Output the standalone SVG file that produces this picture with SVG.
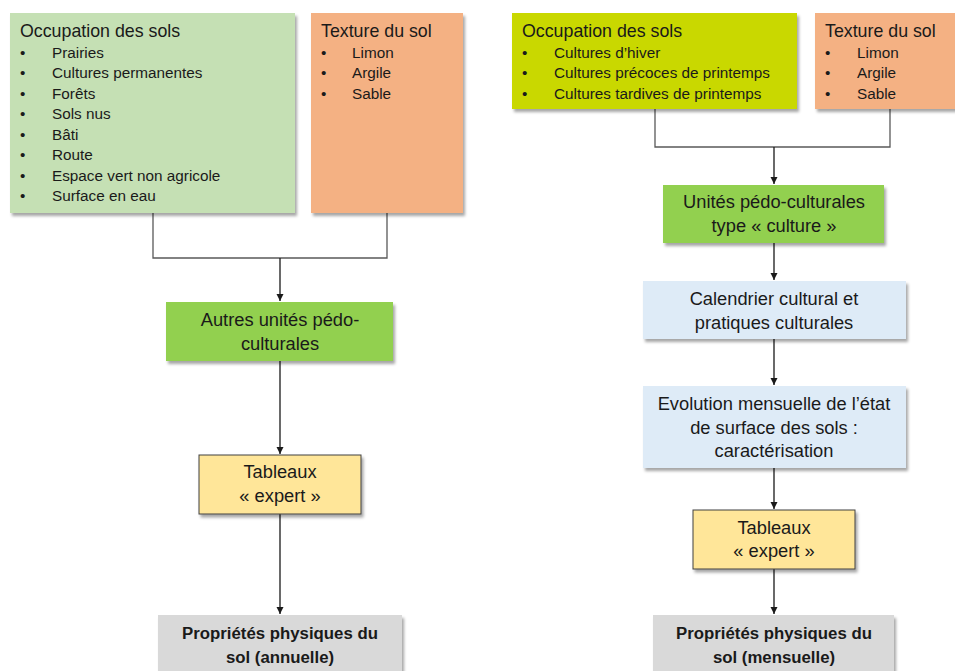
<svg xmlns="http://www.w3.org/2000/svg" width="955" height="671" viewBox="0 0 955 671">
<style>
  text { font-family: "Liberation Sans", Arial, sans-serif; fill: #1a1a1a; }
  .title { font-size: 17.8px; }
  .item { font-size: 15.3px; }
  .c { font-size: 18.3px; text-anchor: middle; }
  .b { font-size: 16.8px; font-weight: bold; text-anchor: middle; }
  .conn { fill: none; stroke: #595959; stroke-width: 1.3; }
  .arr { fill: none; stroke: #1a1a1a; stroke-width: 1.3; marker-end: url(#ah); }
</style>
<defs>
  <marker id="ah" markerWidth="8" markerHeight="8" refX="7" refY="4" orient="auto" markerUnits="userSpaceOnUse">
    <path d="M0,0.5 L7,4 L0,7.5 Z" fill="#1a1a1a"/>
  </marker>
  <filter id="sh" x="-5%" y="-5%" width="115%" height="120%">
    <feDropShadow dx="2" dy="3" stdDeviation="1.5" flood-color="#000" flood-opacity="0.35"/>
  </filter>
</defs>
<rect width="955" height="671" fill="#ffffff"/>

<g id="connectors">
  <path class="conn" d="M153,213 V258 H387 V213"/>
  <path class="arr" d="M280,258 V301"/>
  <path class="arr" d="M280,361 V454"/>
  <path class="arr" d="M280,514 V614"/>
  <path class="conn" d="M655,109 V147 H890 V109"/>
  <path class="arr" d="M774,147 V184"/>
  <path class="arr" d="M774,243 V280"/>
  <path class="arr" d="M774,339 V385"/>
  <path class="arr" d="M774,468 V509"/>
  <path class="arr" d="M774,569 V614"/>
</g>

<g id="occupation-left">
  <rect x="10" y="13" width="285" height="200" fill="#c5e0b4" filter="url(#sh)"/>
  <text class="title" x="20" y="37">Occupation des sols</text>
  <text class="item" x="20" y="58">•</text><text class="item" x="52" y="58">Prairies</text>
  <text class="item" x="20" y="78">•</text><text class="item" x="52" y="78">Cultures permanentes</text>
  <text class="item" x="20" y="99">•</text><text class="item" x="52" y="99">Forêts</text>
  <text class="item" x="20" y="119">•</text><text class="item" x="52" y="119">Sols nus</text>
  <text class="item" x="20" y="140">•</text><text class="item" x="52" y="140">Bâti</text>
  <text class="item" x="20" y="160">•</text><text class="item" x="52" y="160">Route</text>
  <text class="item" x="20" y="181">•</text><text class="item" x="52" y="181">Espace vert non agricole</text>
  <text class="item" x="20" y="201">•</text><text class="item" x="52" y="201">Surface en eau</text>
</g>

<g id="texture-left">
  <rect x="311" y="13" width="152" height="200" fill="#f4b183" filter="url(#sh)"/>
  <text class="title" x="321" y="37">Texture du sol</text>
  <text class="item" x="321" y="58">•</text><text class="item" x="352" y="58">Limon</text>
  <text class="item" x="321" y="78">•</text><text class="item" x="352" y="78">Argile</text>
  <text class="item" x="321" y="99">•</text><text class="item" x="352" y="99">Sable</text>
</g>

<g id="autres-unites">
  <rect x="166" y="302" width="227" height="59" fill="#92d050" filter="url(#sh)"/>
  <text class="c" x="280" y="326">Autres unités pédo-</text>
  <text class="c" x="280" y="350">culturales</text>
</g>

<g id="tableaux-left">
  <rect x="199" y="455" width="162" height="59" fill="#ffe699" stroke="#404040" stroke-width="1" filter="url(#sh)"/>
  <text class="c" x="280" y="478">Tableaux</text>
  <text class="c" x="280" y="502">« expert »</text>
</g>

<g id="proprietes-left">
  <rect x="158" y="615" width="244" height="60" fill="#d9d9d9" filter="url(#sh)"/>
  <text class="b" x="280" y="639">Propriétés physiques du</text>
  <text class="b" x="280" y="663">sol (annuelle)</text>
</g>

<g id="occupation-right">
  <rect x="512" y="13" width="285" height="96" fill="#c9d800" filter="url(#sh)"/>
  <text class="title" x="522" y="37">Occupation des sols</text>
  <text class="item" x="522" y="58">•</text><text class="item" x="554" y="58">Cultures d’hiver</text>
  <text class="item" x="522" y="78">•</text><text class="item" x="554" y="78">Cultures précoces de printemps</text>
  <text class="item" x="522" y="99">•</text><text class="item" x="554" y="99">Cultures tardives de printemps</text>
</g>

<g id="texture-right">
  <rect x="815" y="13" width="142" height="96" fill="#f4b183" filter="url(#sh)"/>
  <text class="title" x="825" y="37">Texture du sol</text>
  <text class="item" x="825" y="58">•</text><text class="item" x="857" y="58">Limon</text>
  <text class="item" x="825" y="78">•</text><text class="item" x="857" y="78">Argile</text>
  <text class="item" x="825" y="99">•</text><text class="item" x="857" y="99">Sable</text>
</g>

<g id="unites-culture">
  <rect x="663" y="185" width="221" height="58" fill="#92d050" filter="url(#sh)"/>
  <text class="c" x="774" y="208">Unités pédo-culturales</text>
  <text class="c" x="774" y="232">type « culture »</text>
</g>

<g id="calendrier">
  <rect x="643" y="281" width="263" height="58" fill="#deebf7" filter="url(#sh)"/>
  <text class="c" x="774" y="305">Calendrier cultural et</text>
  <text class="c" x="774" y="329">pratiques culturales</text>
</g>

<g id="evolution">
  <rect x="643" y="386" width="263" height="82" fill="#deebf7" filter="url(#sh)"/>
  <text class="c" x="774" y="410">Evolution mensuelle de l’état</text>
  <text class="c" x="774" y="434">de surface des sols :</text>
  <text class="c" x="774" y="457">caractérisation</text>
</g>

<g id="tableaux-right">
  <rect x="693" y="510" width="162" height="59" fill="#ffe699" stroke="#404040" stroke-width="1" filter="url(#sh)"/>
  <text class="c" x="774" y="534">Tableaux</text>
  <text class="c" x="774" y="557">« expert »</text>
</g>

<g id="proprietes-right">
  <rect x="653" y="615" width="241" height="60" fill="#d9d9d9" filter="url(#sh)"/>
  <text class="b" x="774" y="639">Propriétés physiques du</text>
  <text class="b" x="774" y="663">sol (mensuelle)</text>
</g>
</svg>
